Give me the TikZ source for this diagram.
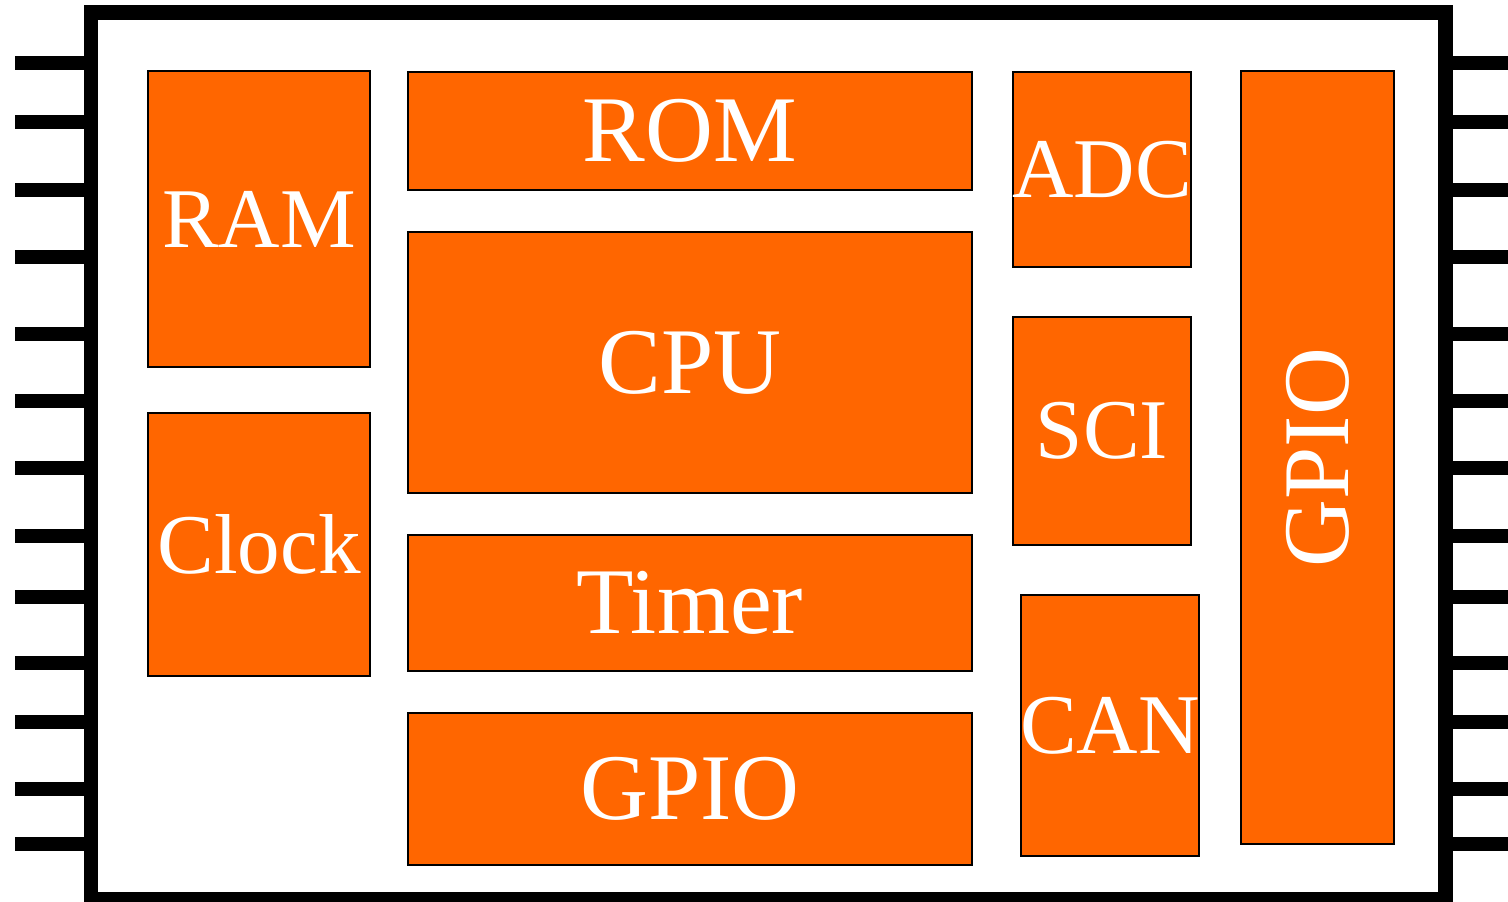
\documentclass[tikz,border=0pt]{standalone}
\usepackage{fontspec}
\setmainfont{Liberation Serif}
\usepackage{tikz}
\usetikzlibrary{positioning}
\definecolor{chiporange}{RGB}{255,102,0}
\tikzset{
	block/.style={rectangle,draw=black,line width=1.1pt,fill=chiporange,text=white,inner sep=0pt,outer sep=0pt},
	big/.style={font=\fontsize{53.5}{60}\selectfont},
	small/.style={font=\fontsize{48.4}{54}\selectfont},
	pin/.style={line width=0.28cm,black},
	chip/.style={line width=0.3cm,black}}

\begin{document}
\begin{tikzpicture}[x=0.02cm,y=-0.02cm]
		
		\useasboundingbox (0,0) rectangle (1508,902);
		
		% pins on both sides
		\foreach \y in {63,122,190,257,334,401,468,536,597,663,722,789,844}
		{
			\draw[pin] (15,\y) -- (91,\y);
			\draw[pin] (1445,\y) -- (1508,\y);
		}
		\draw[chip] (91,12.5) rectangle (1445,899);
		
		% left column
		\node[block, small, minimum width=4.44cm, minimum height=5.92cm] (ram) at (259,219) {RAM};
		\node[block, small, minimum width=4.44cm, minimum height=5.26cm] (clk) at (259,544.5) {Clock};
		
		% middle column
		\node[block, big, minimum width=11.28cm, minimum height=2.36cm] (rom) at (690,131) {ROM};
		\node[block, big, minimum width=11.28cm, minimum height=5.22cm] (cpu) at (690,362.5) {CPU};
		\node[block, big, minimum width=11.28cm, minimum height=2.72cm] (tmr) at (690,603) {Timer};
		\node[block, big, minimum width=11.28cm, minimum height=3.04cm] (gpiob) at (690,789) {GPIO};
		
		% right column
		\node[block, small, minimum width=3.56cm, minimum height=3.9cm] (adc) at (1102,169.5) {\makebox[0pt]{ADC}};
		\node[block, small, minimum width=3.56cm, minimum height=4.56cm] (sci) at (1102,431) {SCI};
		\node[block, small, minimum width=3.56cm, minimum height=5.22cm] (can) at (1110,725.5) {\makebox[0pt]{CAN}};
		\node[block, big, minimum width=3.06cm, minimum height=15.46cm] (gpior) at (1317.5,457.5) {};
		\node[big, text=white, rotate=90, inner sep=0pt] (gpiotxt) at (gpior.center) {GPIO};
		%\node[block, big, rotate=90] (gpior) at (1317.5,457.5) {GPIO};
		
	\end{tikzpicture}
\end{document}
